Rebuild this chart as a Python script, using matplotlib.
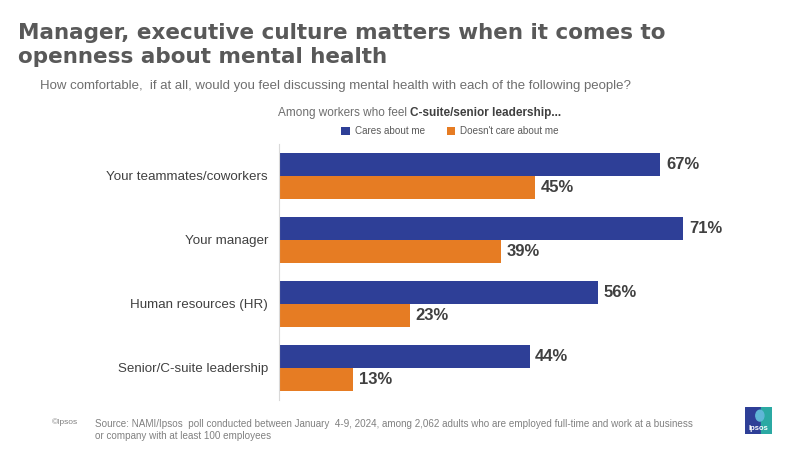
import matplotlib.pyplot as plt
import matplotlib.patches as mpatches
import numpy as np

plt.rcParams['font.family'] = ['Liberation Sans', 'DejaVu Sans']

title_lines = ["Manager, executive culture matters when it comes to", "openness about mental health"]
categories = ["Your teammates/coworkers", "Your manager", "Human resources (HR)", "Senior/C-suite leadership"]
cares = [67, 71, 56, 44]
not_cares = [45, 39, 23, 13]
series_names = ["Cares about me", "Doesn't care about me"]

blue = "#2E3F97"
orange = "#E67C23"
dark = "#404040"
gray = "#595959"

fig = plt.figure(figsize=(8, 4.5), dpi=100)
ax = fig.add_axes([0.349, 0.112, 0.64, 0.569])

y = np.arange(len(categories))
h = 0.36
ax.barh(y - h / 2, cares, height=h, color=blue, label=series_names[0])
ax.barh(y + h / 2, not_cares, height=h, color=orange, label=series_names[1])

for i in range(len(categories)):
    ax.text(cares[i] + 1, y[i] - h / 2, f"{cares[i]}%", va="center", ha="left",
            fontsize=12, fontweight="bold", color=dark)
    ax.text(not_cares[i] + 1, y[i] + h / 2, f"{not_cares[i]}%", va="center", ha="left",
            fontsize=12, fontweight="bold", color=dark)

ax.set_xlim(0, 90)
ax.set_ylim(3.5, -0.5)
ax.set_yticks(y)
ax.set_yticklabels(categories, fontsize=9.6, color=dark)
ax.tick_params(axis="y", length=0, pad=8)
ax.set_xticks([])
for s in ["top", "right", "bottom"]:
    ax.spines[s].set_visible(False)
ax.spines["left"].set_color("#D9D9D9")
ax.spines["left"].set_linewidth(0.8)

# header
for line, base in zip(title_lines, [39, 63]):
    fig.text(18 / 800, 1 - base / 450, line, fontsize=15.5, fontweight="bold", color=gray,
             va="baseline", ha="left", family="DejaVu Sans")
fig.text(40 / 800, 1 - 86 / 450,
         "How comfortable,  if at all, would you feel discussing mental health with each of the following people?",
         fontsize=9.5, color="#6E6E6E", va="center", ha="left")
t1 = fig.text(278 / 800, 1 - 113 / 450, "Among workers who feel ", fontsize=8.5, color="#6E6E6E",
              va="center", ha="left")
fig.canvas.draw()
bb = t1.get_window_extent()
fig.text(bb.x1 / 800, 1 - 113 / 450, "C-suite/senior leadership...", fontsize=8.5, color="#404040",
         fontweight="bold", va="center", ha="left")

fig.legend(loc="center", bbox_to_anchor=(450 / 800, 1 - 131 / 450), ncol=2, frameon=False,
           fontsize=7.1, handlelength=0.9, handleheight=0.9, handletextpad=0.5, columnspacing=2.2,
           labelcolor="#595959")

# footer
fig.text(52 / 800, 1 - 422 / 450, "\u00a9Ipsos", fontsize=6, color="#808080", va="center", ha="left")
fig.text(95 / 800, 1 - 430 / 450,
         "Source: NAMI/Ipsos  poll conducted between January  4-9, 2024, among 2,062 adults who are employed full-time and work at a business\nor company with at least 100 employees",
         fontsize=7.1, color="#808080", va="center", ha="left", linespacing=1.2)

# logo
lax = fig.add_axes([745 / 800, 1 - 434 / 450, 27 / 800, 27 / 450])
lax.add_patch(mpatches.Rectangle((0, 0), 0.6, 1, color="#2E3F97"))
lax.add_patch(mpatches.Rectangle((0.6, 0), 0.4, 1, color="#2BA9A3"))
lax.add_patch(mpatches.Ellipse((0.55, 0.68), 0.3, 0.4, color="#5FB6D6"))
lax.text(0.5, 0.22, "Ipsos", fontsize=5.5, color="white", fontweight="bold", ha="center", va="center")
lax.set_xlim(0, 1)
lax.set_ylim(0, 1)
lax.axis("off")

fig.savefig("out.png", dpi=100)
